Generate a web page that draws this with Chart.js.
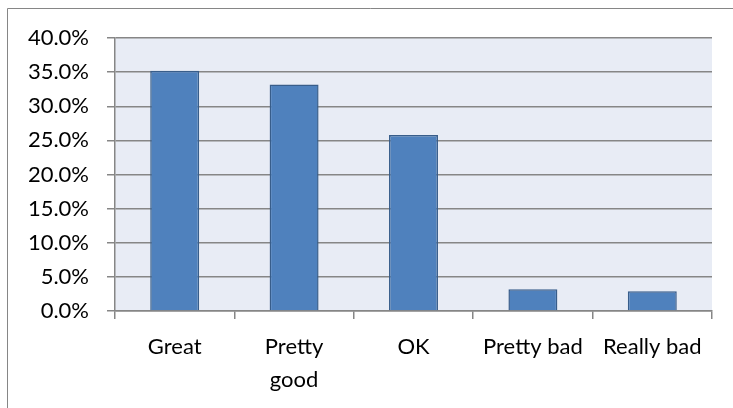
<!DOCTYPE html>
<html>
<head>
<meta charset="utf-8">
<script src="https://cdn.jsdelivr.net/npm/chart.js@4.4.1/dist/chart.umd.min.js"></script>
<style>
  html, body { margin: 0; padding: 0; background: #fff; overflow: hidden; }
</style>
</head>
<body>
<canvas id="chart" width="733" height="408"></canvas>
<script>
const categories = ['Great', ['Pretty', 'good'], 'OK', 'Pretty bad', 'Really bad']
const shares = [35.2, 33.2, 25.8, 3.2, 2.9]
const yTicks = [0, 5, 10, 15, 20, 25, 30, 35, 40]

// light plot fill plus the outer chart frame (only top and left show in the picture)
const plotBg = {
  id: 'plotBg',
  beforeDraw (chart) {
    const { ctx, chartArea: a, width, height } = chart
    ctx.save()
    ctx.fillStyle = '#e8ecf5'
    ctx.fillRect(a.left, a.top, a.right - a.left, a.bottom - a.top)
    ctx.strokeStyle = '#868686'
    ctx.lineWidth = 1
    ctx.beginPath()
    ctx.moveTo(width, 8.5)
    ctx.lineTo(7.5, 8.5)
    ctx.lineTo(7.5, height)
    ctx.stroke()
    ctx.restore()
  }
}

Chart.defaults.font.family = 'Lato, "Liberation Sans", sans-serif'
Chart.defaults.font.size = 22
Chart.defaults.color = '#000'

// eslint-disable-next-line no-unused-vars
const chart = new Chart(document.querySelector('#chart'), {
  type: 'bar',
  data: {
    labels: categories,
    datasets: [{
      data: shares,
      backgroundColor: '#4f81bd',
      borderColor: '#385d8a',
      borderWidth: 1.5,
      barPercentage: 0.41,
      categoryPercentage: 1
    }]
  },
  options: {
    responsive: false,
    animation: false,
    layout: { padding: { top: 38, right: 21, left: 0, bottom: 0 } },
    plugins: { legend: { display: false }, tooltip: { enabled: false } },
    scales: {
      x: {
        afterFit (s) { s.height = 97 },
        grid: { drawOnChartArea: false, drawTicks: true, tickLength: 8, color: '#868686', lineWidth: 1.5, offset: true },
        border: { color: '#868686', width: 1.5 },
        ticks: { padding: 11, maxRotation: 0, autoSkip: false, font: { lineHeight: 1.5 } }
      },
      y: {
        min: 0,
        max: 40,
        afterFit (s) { s.width = 115 },
        afterBuildTicks (s) { s.ticks = yTicks.map(v => ({ value: v })) },
        grid: { color: '#868686', lineWidth: 1.5, tickLength: 8 },
        border: { color: '#868686', width: 1.5 },
        ticks: { padding: 18, callback: v => v.toFixed(1) + '%' }
      }
    }
  },
  plugins: [plotBg]
})
</script>
</body>
</html>
